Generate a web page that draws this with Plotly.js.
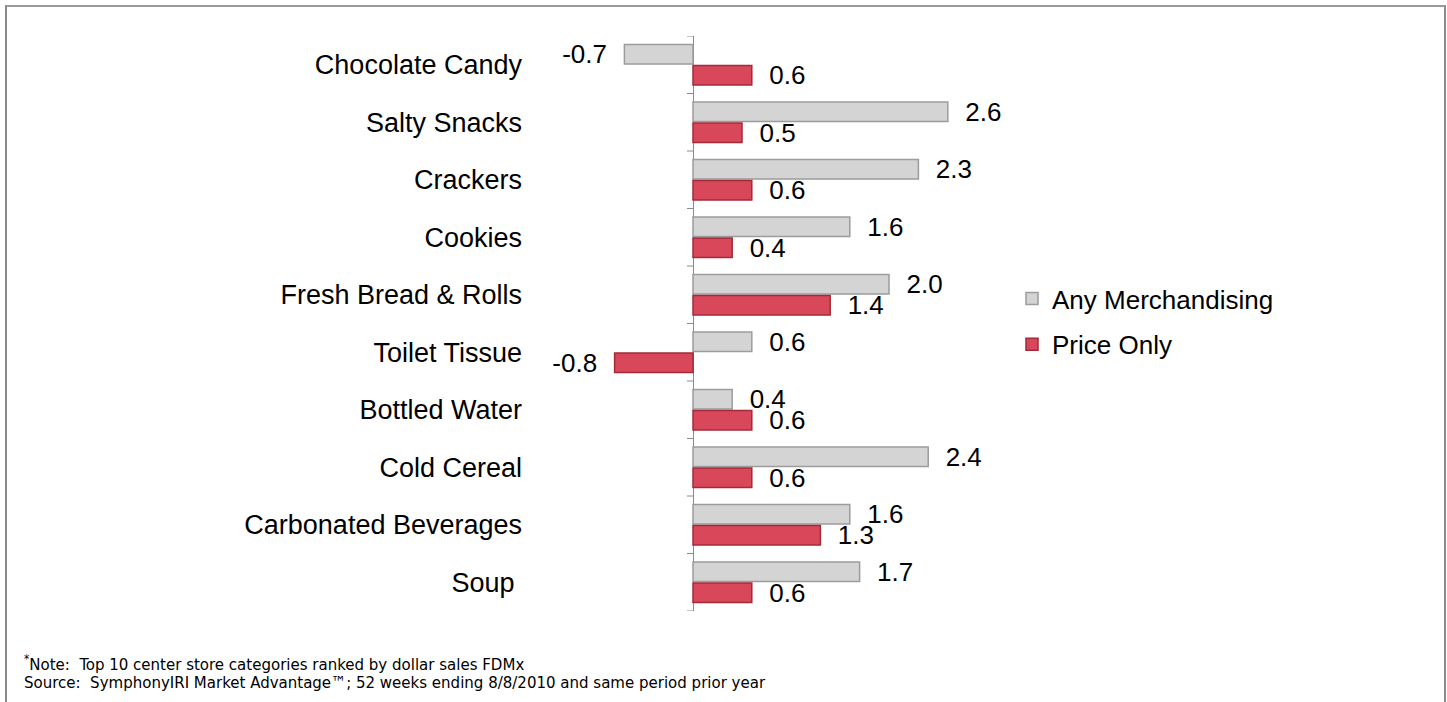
<!DOCTYPE html>
<html>
<head>
<meta charset="utf-8">
<script src="https://cdn.plot.ly/plotly-3.0.1.min.js"></script>
<style>
  html, body { margin:0; padding:0; overflow:hidden; background:#fff; }
  #chart { width:1447px; height:702px; position:absolute; left:0; top:0; }
  #frame { position:absolute; left:5px; top:5px; width:1441px; height:720px; box-sizing:border-box;
           border-left:2px solid #8a8a8a; border-top:2px solid #9a9a9a; border-right:2px solid #8a8a8a;
           border-bottom:none; pointer-events:none; }
</style>
</head>
<body>
<div id="chart"></div>
<div id="frame"></div>
<script>
// ---- data ----
const categories = ["Chocolate Candy", "Salty Snacks", "Crackers", "Cookies", "Fresh Bread & Rolls",
                    "Toilet Tissue", "Bottled Water", "Cold Cereal", "Carbonated Beverages", "Soup "];
const anyMerchandising = [-0.7, 2.6, 2.3, 1.6, 2.0, 0.6, 0.4, 2.4, 1.6, 1.7];
const priceOnly = [0.6, 0.5, 0.6, 0.4, 1.4, -0.8, 0.6, 0.6, 1.3, 0.6];
const seriesNames = ["Any Merchandising", "Price Only"];
const footNote = "<sup>*</sup>Note:\u00a0 Top 10 center store categories ranked by dollar sales FDMx";
const footSource = "Source:\u00a0 SymphonyIRI Market Advantage\u2122; 52 weeks ending 8/8/2010 and same period prior year";

// ---- geometry (pixels) ----
const W = 1447, H = 702;
const plotL = 530, plotR = 1010, plotT = 36, plotB = 611;
const zeroPx = 693, pxPerUnit = 98;
const xr = [(plotL - zeroPx) / pxPerUnit, (plotR - zeroPx) / pxPerUnit];
const pX = p => (p - plotL) / (plotR - plotL);
const pY = p => (plotB - p) / (plotB - plotT);

const FONT = '"Liberation Sans", Arial, sans-serif';
const NOTEFONT = '"Liberation Sans Narrow", "DejaVu Sans Condensed", "Liberation Sans", sans-serif';
const AXISCOLOR = '#8a8a8a';
const sp = '\u00a0\u00a0';
const lbl = v => v < 0 ? v.toFixed(1) + sp : sp + v.toFixed(1);

const common = {
  type: 'bar', orientation: 'h', y: categories,
  textposition: 'outside', constraintext: 'none', cliponaxis: false,
  textfont: {family: FONT, size: 26, color: '#000'},
  hoverinfo: 'skip'
};

const traces = [
  Object.assign({}, common, {
    name: seriesNames[0], x: anyMerchandising, text: anyMerchandising.map(lbl),
    legendgroup: 'a',
    marker: {color: '#d4d4d4', line: {color: '#9c9c9c', width: 1.5}}
  }),
  Object.assign({}, common, {
    name: seriesNames[1], x: priceOnly, text: priceOnly.map(lbl),
    legendgroup: 'b',
    marker: {color: '#d9485a', line: {color: '#a32a38', width: 1.5}}
  })
];

// small tick marks on the zero axis at category boundaries
const tickShapes = [];
for (let i = 0; i <= categories.length; i++) {
  tickShapes.push({
    type: 'line', xref: 'x', yref: 'y', xsizemode: 'pixel', xanchor: 0,
    x0: -6, x1: 0, y0: i - 0.5, y1: i - 0.5,
    line: {color: AXISCOLOR, width: 1}, layer: 'below'
  });
}

const layout = {
  width: W, height: H,
  paper_bgcolor: '#fff', plot_bgcolor: 'rgba(0,0,0,0)',
  margin: {l: plotL, r: W - plotR, t: plotT, b: H - plotB, pad: 0},
  font: {family: FONT, size: 26, color: '#000'},
  barmode: 'group', bargap: 0.27, bargroupgap: 0.06,
  showlegend: true,
  xaxis: {range: xr, showticklabels: false, showgrid: false, showline: false, ticks: '', fixedrange: true,
          zeroline: true, zerolinecolor: AXISCOLOR, zerolinewidth: 1},
  yaxis: {
    type: 'category', categoryorder: 'array', categoryarray: categories,
    range: [categories.length - 0.5, -0.5],
    showline: false, ticks: '', showgrid: false, zeroline: false, fixedrange: true,
    tickfont: {family: FONT, size: 27, color: '#000'},
    ticklabelstandoff: 7
  },
  legend: {
    x: pX(1012), xanchor: 'left', y: pY(275), yanchor: 'top',
    font: {family: FONT, size: 26, color: '#000'},
    traceorder: 'grouped', tracegroupgap: 9, bgcolor: 'rgba(0,0,0,0)', borderwidth: 0
  },
  shapes: tickShapes,
  annotations: [
    {xref: 'paper', yref: 'paper', x: pX(22), y: pY(663), xanchor: 'left', yanchor: 'middle',
     showarrow: false, text: footNote, font: {family: NOTEFONT, size: 16.7, color: '#000'}},
    {xref: 'paper', yref: 'paper', x: pX(22), y: pY(682), xanchor: 'left', yanchor: 'middle',
     showarrow: false, text: footSource, font: {family: NOTEFONT, size: 16.7, color: '#000'}}
  ]
};

Plotly.newPlot('chart', traces, layout, {staticPlot: true, displayModeBar: false});
</script>
</body>
</html>
